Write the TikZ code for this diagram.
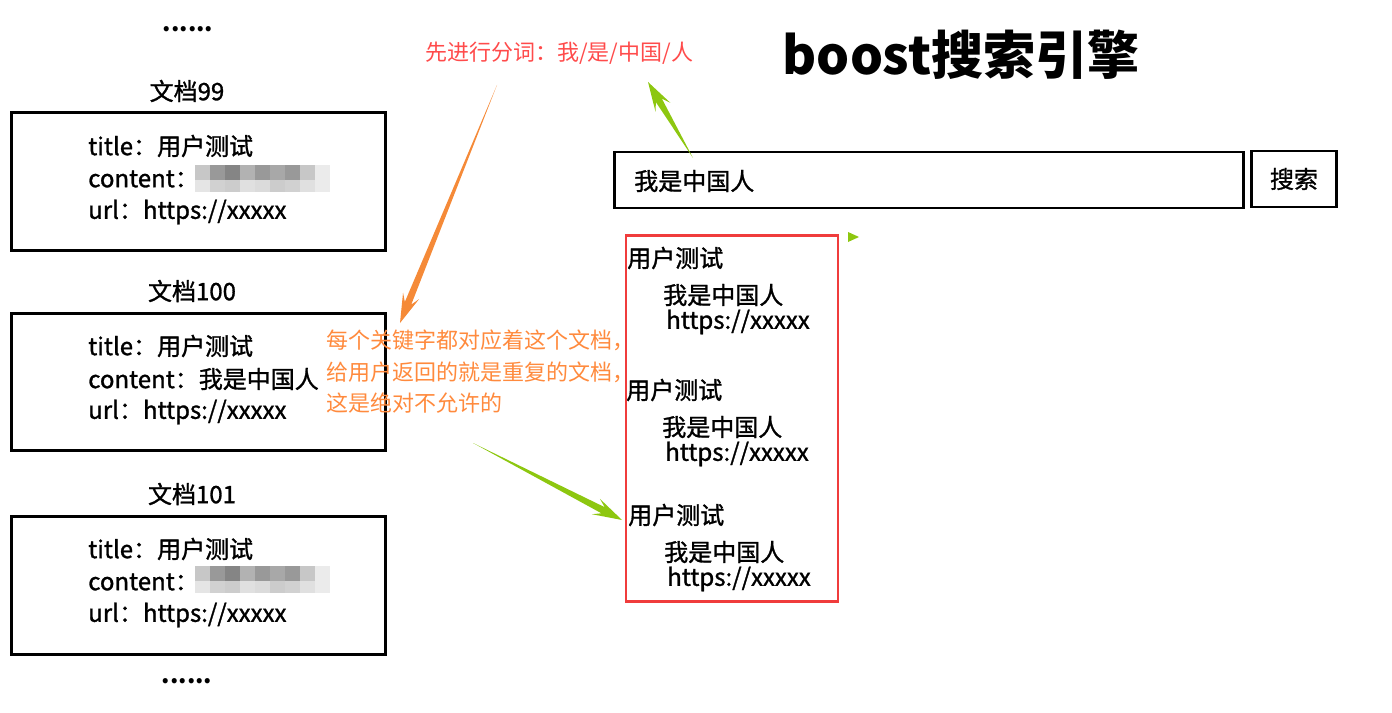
\documentclass[tikz,border=0pt]{standalone}
\usepackage{fontspec}
\setmainfont{Noto Sans CJK SC}
\newfontfamily\semibold[FakeBold=1.2]{Noto Sans CJK SC}
\usepackage{xcolor}
\usepackage{tikz}
\usetikzlibrary{calc}
\definecolor{splitRed}{HTML}{FF4B4B}
\definecolor{noteOrange}{HTML}{FF8A3D}
\definecolor{arrowOrange}{HTML}{F58A38}
\definecolor{arrowGreen}{HTML}{8DC710}
\definecolor{frameRed}{HTML}{F03C3C}

% tapered arrow: tail, tip, colour
\newcommand{\taperarrow}[3]{%
    \coordinate (hj) at ($(#2)!16pt!(#1)$);
    \coordinate (hb) at ($(#2)!22pt!(#1)$);
    \fill[#3] (#1) -- ($(hj)!2.6pt!90:(#2)$) -- ($(hb)!6.5pt!90:(#2)$) -- (#2)
        -- ($(hb)!6.5pt!-90:(#2)$) -- ($(hj)!2.6pt!-90:(#2)$) -- cycle;
}
% pixelated smear over hidden text
\newcommand{\smear}[2]{%
    \foreach \g [count=\i from 0] in {22,40,48,30,40,34,40,22,8}
        \fill[black!\g] ({#1+\i*15},#2) rectangle ++(15,15);
    \foreach \g [count=\i from 0] in {10,18,20,12,14,20,18,12,8}
        \fill[black!\g] ({#1+\i*15},#2+15) rectangle ++(15,12);
}

\begin{document}
\begin{tikzpicture}[x=0.75pt, y=-0.75pt,
    txt/.style={inner sep=0, anchor=west, font=\semibold\fontsize{18pt}{22pt}\selectfont},
    docbox/.style={draw, line width=2.2pt, minimum width=280pt, minimum height=103pt, inner sep=0},
    doclabel/.style={inner sep=0, font=\semibold\fontsize{18pt}{22pt}\selectfont}]
    \useasboundingbox (0,0) rectangle (1392,713);

    % documents on the left
    \node[doclabel, font=\bfseries\fontsize{18pt}{22pt}\selectfont] (dotsTop) at (188,29) {......};
    \node[doclabel] (lab99) at (187,91) {文档99};
    \node[docbox] (doc99) at (198.5,181.5) {};
    \node[txt] (t99) at (88,146) {title：用户测试};
    \node[txt] (c99) at (88,179) {content：};
    \node[txt] (u99) at (88,212) {url：https://xxxxx};
    \smear{195}{165}

    \node[doclabel] (lab100) at (192,291) {文档100};
    \node[docbox] (doc100) at (198.5,382) {};
    \node[txt] (t100) at (88,346) {title：用户测试};
    \node[txt] (c100) at (88,379) {content：我是中国人};
    \node[txt] (u100) at (88,412) {url：https://xxxxx};

    \node[doclabel] (lab101) at (192,494) {文档101};
    \node[docbox] (doc101) at (198.5,585.5) {};
    \node[txt] (t101) at (88,549) {title：用户测试};
    \node[txt] (c101) at (88,582) {content：};
    \node[txt] (u101) at (88,615) {url：https://xxxxx};
    \smear{195}{566}
    \node[doclabel, font=\bfseries\fontsize{18pt}{22pt}\selectfont] (dotsBot) at (187,681) {......};

    % search engine
    \node[inner sep=0, font=\fontsize{39pt}{44pt}\selectfont\bfseries] (title) at (961,55) {boost搜索引擎};
    \node[draw, line width=2.2pt, minimum width=472pt, minimum height=42pt] (query) at (929,180) {};
    \node[txt] (qtext) at (634,181) {我是中国人};
    \node[draw, line width=2.2pt, minimum width=64pt, minimum height=42pt,
        font=\semibold\fontsize{18pt}{22pt}\selectfont] (search) at (1294,179) {搜索};

    \node[draw=frameRed, line width=2.2pt, minimum width=159pt, minimum height=274pt] (results) at (732,418.5) {};
    \foreach \y/\dx in {258/0, 390/-1, 515/1} {
        \node[txt] at (627+\dx,\y) {用户测试};
        \node[txt] at (663+\dx,\y+37) {我是中国人};
        \node[txt] at (666+\dx,\y+64) {https://xxxxx};
    }
    \fill[arrowGreen] (848,232) -- (859,237) -- (848,242) -- cycle;

    % notes
    \node[txt, text=splitRed, font=\fontsize{16.5pt}{20pt}\selectfont] (split) at (425,53) {先进行分词：我/是/中国/人};
    \node[txt, text=noteOrange, font=\fontsize{16.5pt}{23.5pt}\selectfont, align=left, anchor=north west]
        (dup) at (326,330) {每个关键字都对应着这个文档，\\给用户返回的就是重复的文档，\\这是绝对不允许的};

    \coordinate (qTail) at (693,158);
    \coordinate (splitTip) at (648,82);
    \coordinate (splitTail) at (497,85);
    \coordinate (docTip) at (400,323);
    \coordinate (dupTail) at (473,443);
    \coordinate (resTip) at (622,520);
    \taperarrow{qTail}{splitTip}{arrowGreen}
    \taperarrow{splitTail}{docTip}{arrowOrange}
    \taperarrow{dupTail}{resTip}{arrowGreen}
\end{tikzpicture}
\end{document}
